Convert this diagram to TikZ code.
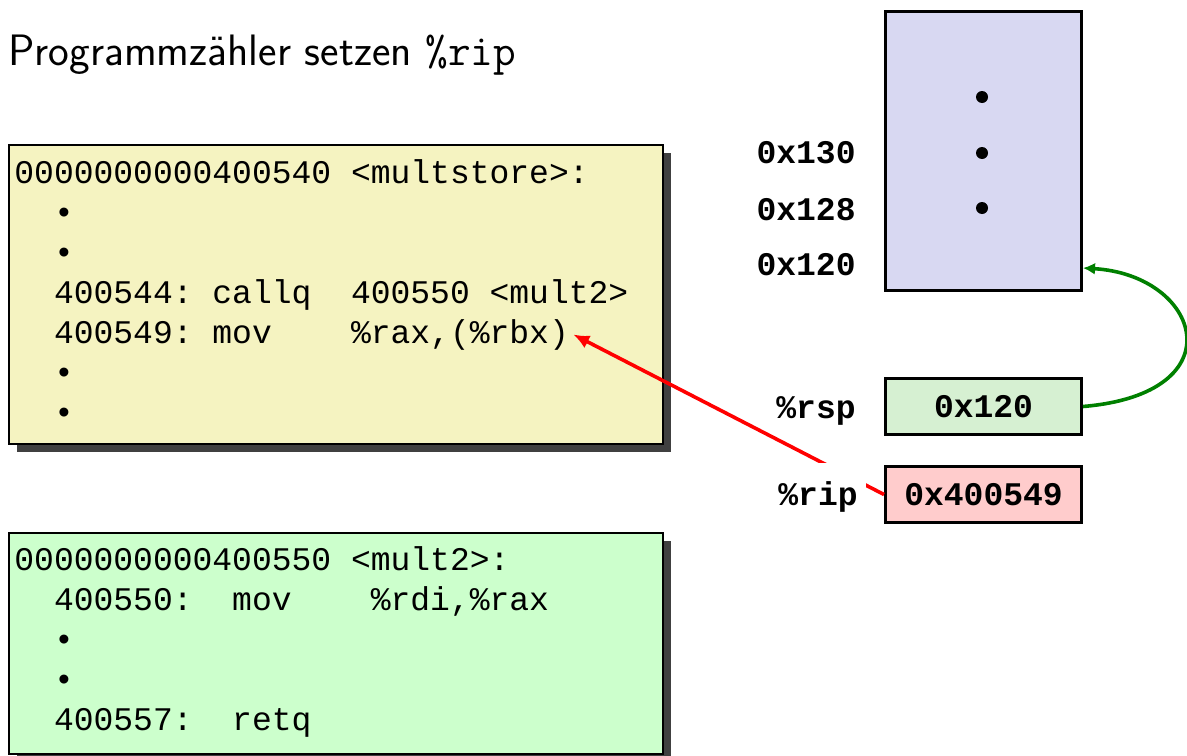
\documentclass[tikz,border=0pt]{standalone}
\usepackage{fontspec}
\newfontfamily\codefont{Liberation Mono}
\usetikzlibrary{arrows.meta,positioning,shadows}
\definecolor{CodeYellow}{HTML}{F5F3C1}
\definecolor{CodeGreen}{HTML}{CCFFCC}
\definecolor{StackBlue}{HTML}{D8D8F2}
\definecolor{RegGreen}{HTML}{D6F0D2}
\definecolor{RegRed}{HTML}{FFCCCC}
\definecolor{CallGreen}{HTML}{008000}
\definecolor{ShadowGray}{HTML}{404040}
\tikzset{
  codebox/.style={
    draw=black,
    line width=1pt,
    anchor=north west,
    inner sep=0pt,
    minimum width=327pt,
    drop shadow={shadow xshift=4pt, shadow yshift=-4pt, fill=ShadowGray, opacity=1}
  },
  codeline/.style={anchor=base west, inner sep=2pt, font=\codefont\fontsize{16.5}{20}\selectfont},
  membox/.style={draw=black, line width=1.5pt, minimum width=98pt, inner sep=0pt},
  regbox/.style={membox, minimum height=28pt, font=\codefont\bfseries\fontsize{16.5}{20}\selectfont},
  addrlabel/.style={anchor=base east, inner sep=1pt, font=\codefont\bfseries\fontsize{16.5}{20}\selectfont},
  stackdot/.style={circle, fill=black, minimum size=6pt, inner sep=0pt},
  jumparrow/.style={-{Latex[length=8pt, width=7pt]}, draw=red, line width=1.8pt},
  retarrow/.style={-{Latex[length=6pt, width=6pt]}, draw=CallGreen, line width=1.8pt}
}

\begin{document}
\begin{tikzpicture}[x=0.5pt, y=-0.5pt]
  \useasboundingbox (0,0) rectangle (1187,755);

  \node[anchor=base west, inner sep=0pt, font=\sffamily\fontsize{22}{27}\selectfont] (title)
    at (8,65) {Programmzähler setzen \texttt{\%rip}};

  % code of multstore
  \node[codebox, fill=CodeYellow, minimum height=149.5pt] (multstore) at (8,144) {};
  \node[codeline] (ms1) at (10,183) {0000000000400540 <multstore>:};
  \node[codeline] (ms2) at (10,223) {~~•};
  \node[codeline] (ms3) at (10,263) {~~•};
  \node[codeline] (ms4) at (10,303) {~~400544:~callq~~400550 <mult2>};
  \node[codeline] (ms5) at (10,343) {~~400549:~mov~~~~\%rax,(\%rbx)};
  \node[codeline] (ms6) at (10,383) {~~•};
  \node[codeline] (ms7) at (10,423) {~~•};

  % code of mult2
  \node[codebox, fill=CodeGreen, minimum height=110.5pt] (mult) at (8,532) {};
  \node[codeline] (mt1) at (10,570) {0000000000400550 <mult2>:};
  \node[codeline] (mt2) at (10,610) {~~400550:~~mov~~~~\%rdi,\%rax};
  \node[codeline] (mt3) at (10,650) {~~•};
  \node[codeline] (mt4) at (10,690) {~~•};
  \node[codeline] (mt5) at (10,730) {~~400557:~~retq};

  % stack
  \node[membox, fill=StackBlue, minimum height=139.5pt, anchor=north west] (stack) at (884,10) {};
  \node[stackdot] (d1) at (982,97) {};
  \node[stackdot] (d2) at (982,153) {};
  \node[stackdot] (d3) at (982,208) {};
  \node[addrlabel] (a130) at (858,163) {0x130};
  \node[addrlabel] (a128) at (858,220) {0x128};
  \node[addrlabel] (a120) at (858,275) {0x120};

  % registers
  \node[regbox, fill=RegGreen, anchor=north west] (rsp) at (884,377) {0x120};
  \node[regbox, fill=RegRed, anchor=north west] (rip) at (884,465) {0x400549};
  \coordinate (top) at ([yshift=12pt]stack.south east);

  \draw[jumparrow] (rip.west) -- (ms5.east);
  \draw[retarrow] (rsp.east) .. controls +(155,-13) and +(118,7) .. (top);

  \node[addrlabel, fill=white] (rsplabel) at (858,418) {\%rsp};
  \node[addrlabel, fill=white, inner xsep=4pt, inner ysep=9pt] (riplabel) at (866,505) {\%rip};
\end{tikzpicture}
\end{document}
